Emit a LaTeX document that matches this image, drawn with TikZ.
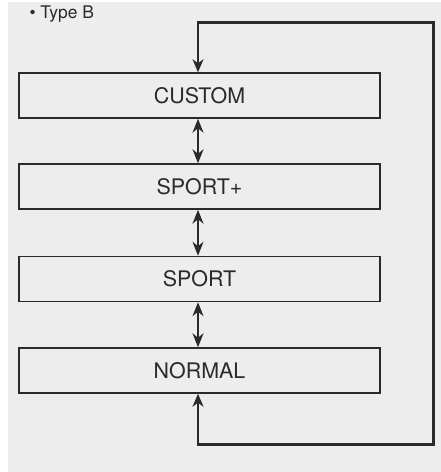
\documentclass[tikz,border=0pt]{standalone}
\usepackage{fontspec}
\setmainfont{TeX Gyre Heros}
\usetikzlibrary{arrows.meta}
\definecolor{bg}{HTML}{EDEDED}
\definecolor{ink}{HTML}{2A2A2A}
\tikzset{
  modebox/.style={draw=ink, line width=1.5bp, minimum width=361bp, minimum height=45bp,
    inner sep=0pt, text=ink, font=\fontsize{21.5}{25}\selectfont},
  link/.style={draw=ink, line width=1.5bp, {Stealth[length=14bp,width=11bp,inset=4.5bp]}-{Stealth[length=14bp,width=11bp,inset=4.5bp]}},
  loop/.style={draw=ink, line width=2.2bp, {Stealth[length=13bp,width=11bp,inset=4bp]}-{Stealth[length=13bp,width=11bp,inset=4bp]}}
}
\begin{document}
\begin{tikzpicture}[x=1bp,y=-1bp]
\useasboundingbox (0,0) rectangle (441,472);
\fill[bg] (8,2) rectangle (441,472);
\node[anchor=west, text=ink, font=\fontsize{17.5}{20}\selectfont] (title) at (26,14) {\textbullet\ Type B};
\node[modebox] (custom) at (199.5,95.5) {CUSTOM};
\node[modebox] (sportp) at (199.5,186.5) {SPORT+};
\node[modebox] (sport) at (199.5,279) {SPORT};
\node[modebox] (normal) at (199.5,370.5) {NORMAL};
\coordinate (ax) at (198,0);
\coordinate (tr) at (433.5,22.5);
\coordinate (br) at (433.5,444.5);
\draw[link] (custom.south -| ax) -- (sportp.north -| ax);
\draw[link] (sportp.south -| ax) -- (sport.north -| ax);
\draw[link] (sport.south -| ax) -- (normal.north -| ax);
\draw[loop] (normal.south -| ax) -- (ax |- br) -- (br) -- (tr) -- (ax |- tr) -- (custom.north -| ax);
\end{tikzpicture}
\end{document}
